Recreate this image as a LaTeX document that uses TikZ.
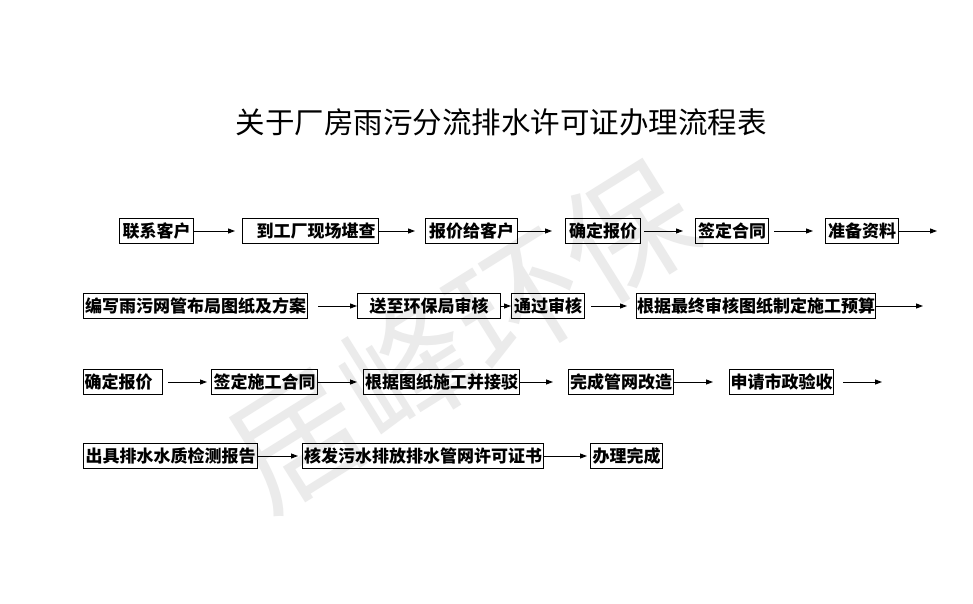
\documentclass[tikz,border=0pt]{standalone}
\usepackage{fontspec}
\newfontfamily\cjk{Noto Sans CJK SC}
\usetikzlibrary{arrows.meta}
\tikzset{
  stepbox/.style={draw=black, line width=1.1pt, inner sep=0.5pt, minimum height=25pt,
    anchor=west, font=\cjk\bfseries\fontsize{17}{18}\selectfont, text=black},
  arr/.style={draw=black, line width=0.9pt, -{Triangle[length=7pt,width=5pt]}},
  wm/.style={font=\cjk\fontsize{130}{135}\selectfont, text=black!8, rotate=32}
}
\begin{document}
\begin{tikzpicture}[x=1pt,y=-1pt]
\useasboundingbox (0,0) rectangle (973,604);
\fill[white] (0,0) rectangle (973,604);
% watermark
\node[wm] (wmark) at (462,335) {居峰环保};
% title
\node[font=\cjk\fontsize{29.5}{31}\selectfont] (title) at (501,122) {关于厂房雨污分流排水许可证办理流程表};
% row 1
\node[stepbox, minimum width=74pt] (a1) at (119,231) {联系客户};
\node[stepbox, minimum width=136pt, align=right, text width=130pt] (a2) at (242,231) {\hfill 到工厂现场堪查};
\node[stepbox, minimum width=92pt] (a3) at (425,231) {报价给客户};
\node[stepbox, minimum width=75pt] (a4) at (565,231) {确定报价};
\node[stepbox, minimum width=73pt] (a5) at (695,231) {签定合同};
\node[stepbox, minimum width=73pt] (a6) at (825,231) {准备资料};
\coordinate (e1) at (937,231);
\draw[arr, shorten >=7pt] (a1) -- (a2);
\draw[arr, shorten >=10pt] (a2) -- (a3);
\draw[arr, shorten >=13pt] (a3) -- (a4);
\draw[arr, shorten <=3pt, shorten >=12pt] (a4) -- (a5);
\draw[arr, shorten <=5pt, shorten >=12pt] (a5) -- (a6);
\draw[arr] (a6) -- (e1);
% row 2
\node[stepbox, minimum width=224pt] (b1) at (83,306) {编写雨污网管布局图纸及方案};
\node[stepbox, minimum width=143pt] (b2) at (357,306) {送至环保局审核};
\node[stepbox, minimum width=73pt] (b3) at (511,306) {通过审核};
\node[stepbox, minimum width=239pt] (b4) at (636,306) {根据最终审核图纸制定施工预算};
\coordinate (e2) at (923,306);
\draw[arr, shorten <=10pt] (b1) -- (b2);
\draw[arr] (b2) -- (b3);
\draw[arr, shorten <=6pt, shorten >=9pt] (b3) -- (b4);
\draw[arr] (b4) -- (e2);
% row 3
\node[stepbox, minimum width=79pt, text width=77pt, align=left] (c1) at (83,382) {确定报价};
\node[stepbox, minimum width=106pt] (c2) at (211,382) {签定施工合同};
\node[stepbox, minimum width=156pt] (c3) at (363,382) {根据图纸施工并接驳};
\node[stepbox, minimum width=105pt] (c4) at (568,382) {完成管网改造};
\node[stepbox, minimum width=104pt] (c5) at (729,382) {申请市政验收};
\coordinate (s3) at (843,382);
\coordinate (e3) at (882,382);
\draw[arr, shorten <=5pt, shorten >=4pt] (c1) -- (c2);
\draw[arr, shorten >=6pt] (c2) -- (c3);
\draw[arr, shorten >=15pt] (c3) -- (c4);
\draw[arr, shorten >=16pt] (c4) -- (c5);
\draw[arr] (s3) -- (e3);
% row 4
\node[stepbox, minimum width=174pt] (d1) at (83,456) {出具排水水质检测报告};
\node[stepbox, minimum width=241pt] (d2) at (302,456) {核发污水排放排水管网许可证书};
\node[stepbox, minimum width=72pt] (d3) at (590,456) {办理完成};
\draw[arr, shorten >=4pt] (d1) -- (d2);
\draw[arr, shorten >=3pt] (d2) -- (d3);
\end{tikzpicture}
\end{document}
